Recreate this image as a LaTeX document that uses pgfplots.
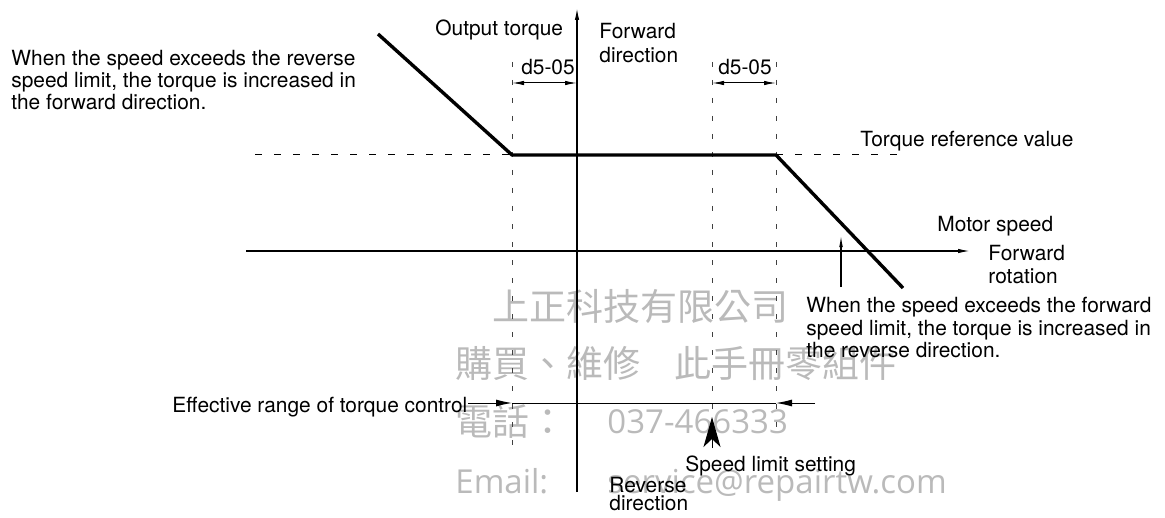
\documentclass[border=0pt]{standalone}
\usepackage{pgfplots}
\pgfplotsset{compat=1.18}
\usepackage{fontspec}
\setmainfont{TeX Gyre Heros}
\newfontfamily\cjk{Noto Sans CJK TC}
\newfontfamily\wm{Open Sans}
\usetikzlibrary{arrows.meta}

\definecolor{wmgray}{gray}{0.73}
\definecolor{dashgray}{gray}{0.25}

\tikzset{
    lbl/.style={anchor=base west, inner sep=0pt, font=\fontsize{10.45}{12}\selectfont},
    wmk/.style={anchor=base west, inner sep=0pt, text=wmgray},
}

% one unit of the axis = one pixel of the reference = 0.5pt
\begin{document}
\begin{tikzpicture}
\begin{axis}[
    width=582.5pt, height=259pt, scale only axis,
    xmin=0, xmax=1165, ymin=0, ymax=518, y dir=reverse,
    hide axis, clip=false,
]
% watermark
\node[wmk, font=\cjk\fontsize{18.5}{20}\selectfont] at (axis cs:492,320) {上正科技有限公司};
\node[wmk, font=\cjk\fontsize{18.5}{20}\selectfont] at (axis cs:455,377) {購買、維修\hspace{17pt}此手冊零組件};
\node[wmk, font=\cjk\fontsize{18.5}{20}\selectfont] at (axis cs:455,435) {電話：};
\node[wmk, font=\wm\fontsize{16.5}{18}\selectfont] at (axis cs:607,433) {037-466333};
\node[wmk, font=\wm\fontsize{16.5}{18}\selectfont] at (axis cs:455,493) {Email:};
\node[wmk, font=\wm\fontsize{16.5}{18}\selectfont] at (axis cs:607,493) {service@repairtw.com};

% torque reference (dashed)
\addplot[black, line width=0.5pt, dash pattern=on 3.5pt off 6pt] coordinates {(255,155) (512,155)};
\addplot[black, line width=0.5pt, dash pattern=on 3.5pt off 6pt] coordinates {(776,155) (903,155)};

% vertical dashed guides
\addplot[dashgray, line width=0.5pt, dash pattern=on 2.5pt off 6.5pt] coordinates {(512,62) (512,447)};
\addplot[dashgray, line width=0.5pt, dash pattern=on 2.5pt off 6.5pt] coordinates {(712,62) (712,432)};
\addplot[dashgray, line width=0.5pt, dash pattern=on 2.5pt off 6.5pt] coordinates {(776,62) (776,434)};

% axes
\addplot[black, line width=0.6pt, -{Latex[length=6pt,width=2.2pt]}] coordinates {(577,492) (577,8)};
\addplot[black, line width=0.6pt, -{Latex[length=6pt,width=2.2pt]}] coordinates {(246,251) (970,251)};

% output torque curve
\addplot[black, line width=1.7pt, line join=round] coordinates {
    (378,34) (512,155) (776,155) (903,288)
};

% d5-05 dimensions
\addplot[black, line width=0.5pt, {Latex[length=6pt,width=2.2pt]}-{Latex[length=6pt,width=2.2pt]}] coordinates {(512,83) (577,83)};
\addplot[black, line width=0.5pt, {Latex[length=6pt,width=2.2pt]}-{Latex[length=6pt,width=2.2pt]}] coordinates {(712,83) (776,83)};

% effective range of torque control
\addplot[black, line width=0.5pt, -{Latex[length=8pt,width=3.5pt]}] coordinates {(468,403) (512,403)};
\addplot[black, line width=0.5pt] coordinates {(512,403) (776,403)};
\addplot[black, line width=0.5pt, -{Latex[length=8pt,width=3.5pt]}] coordinates {(815,403) (776,403)};

% speed limit setting arrow
\addplot[black, line width=0.5pt, -{Stealth[length=15pt,width=8.5pt,inset=4pt]}] coordinates {(712,448) (712,417)};

% forward speed limit pointer
\addplot[black, line width=0.6pt, -{Latex[length=6pt,width=1.8pt]}] coordinates {(841,287) (841,235)};

% labels
\node[lbl] at (axis cs:11,66) {When the speed exceeds the reverse};
\node[lbl] at (axis cs:11,88) {speed limit, the torque is increased in};
\node[lbl] at (axis cs:11,110) {the forward direction.};
\node[lbl] at (axis cs:435,36) {Output torque};
\node[lbl] at (axis cs:599,39) {Forward};
\node[lbl] at (axis cs:599,63) {direction};
\node[lbl, anchor=base] at (axis cs:548,75) {d5-05};
\node[lbl, anchor=base] at (axis cs:745,75) {d5-05};
\node[lbl] at (axis cs:860,147) {Torque reference value};
\node[lbl] at (axis cs:937,231) {Motor speed};
\node[lbl] at (axis cs:988,260) {Forward};
\node[lbl] at (axis cs:988,283) {rotation};
\node[lbl] at (axis cs:806,312) {When the speed exceeds the forward};
\node[lbl] at (axis cs:806,335) {speed limit, the torque is increased in};
\node[lbl] at (axis cs:806,357) {the reverse direction.};
\node[lbl] at (axis cs:172,412) {Effective range of torque control};
\node[lbl] at (axis cs:685,471) {Speed limit setting};
\node[lbl] at (axis cs:609,492) {Reverse};
\node[lbl] at (axis cs:609,510) {direction};
\end{axis}
\pgfresetboundingbox
\path[use as bounding box] (0,0) rectangle (582.5pt,259pt);
\end{tikzpicture}
\end{document}
